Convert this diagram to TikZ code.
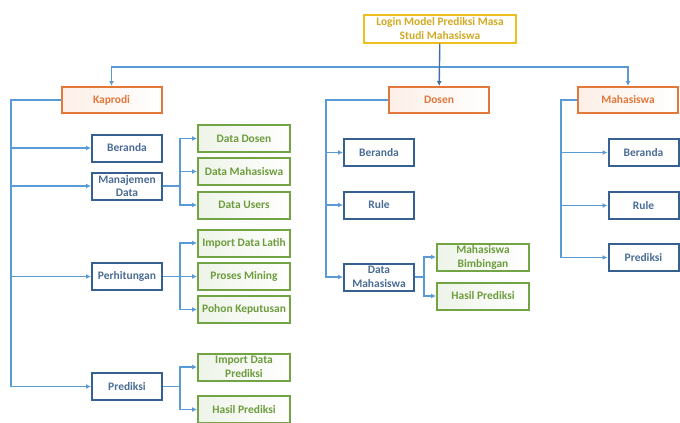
\documentclass[tikz,border=0pt]{standalone}
\usepackage{fontspec}
\setmainfont{Carlito}
\usetikzlibrary{arrows.meta}
\definecolor{linkblue}{HTML}{5B9BD5}
\definecolor{linkdark}{HTML}{3E6FA8}
\definecolor{boxblue}{HTML}{35608F}
\definecolor{textblue}{HTML}{4A6C96}
\definecolor{boxorange}{HTML}{E2773A}
\definecolor{boxgreen}{HTML}{72A344}
\definecolor{textgreen}{HTML}{6C9C3C}
\definecolor{boxyellow}{HTML}{EDBE1E}
\definecolor{textyellow}{HTML}{D2AA22}
\tikzset{
	box/.style={draw, line width=2bp, minimum height=27bp, inner sep=1bp, align=center, font=\fontsize{11.5}{14}\selectfont\bfseries},
	rootbox/.style={box, draw=boxyellow, text=textyellow, fill=white, minimum width=152bp, minimum height=28bp},
	userbox/.style={box, draw=boxorange, text=boxorange, left color=boxorange!12, right color=white, minimum width=100bp, minimum height=26bp},
	menubox/.style={box, draw=boxblue, text=textblue, fill=white, minimum width=70bp},
	subbox/.style={box, draw=boxgreen, text=textgreen, left color=boxgreen!12, right color=white, minimum width=92bp},
	link/.style={draw=linkblue, line width=1.4bp, -{Latex[length=5bp,width=5bp]}},
}

\begin{document}
\begin{tikzpicture}[x=1bp,y=-1bp]
				\useasboundingbox (0,0) rectangle (680,422);
				
				\node[rootbox] (login) at (440,28.5) {Login Model Prediksi Masa\\Studi Mahasiswa};
				\node[userbox] (kaprodi) at (111.5,100) {Kaprodi};
				\node[userbox] (dosen) at (439,100) {Dosen};
				\node[userbox] (mahasiswa) at (628,100) {Mahasiswa};
				
				\node[menubox] (kberanda) at (127,148) {Beranda};
				\node[menubox] (kmanajemen) at (127,186) {Manajemen\\Data};
				\node[menubox] (kperhitungan) at (127,276.5) {Perhitungan};
				\node[menubox] (kprediksi) at (127,386.5) {Prediksi};
				
				\node[subbox] (kdosen) at (244,138.5) {Data Dosen};
				\node[subbox] (kmhs) at (244,171.5) {Data Mahasiswa};
				\node[subbox] (kusers) at (244,205) {Data Users};
				\node[subbox] (klatih) at (244,243) {Import Data Latih};
				\node[subbox] (kmining) at (244,276.5) {Proses Mining};
				\node[subbox] (kpohon) at (244,309.5) {Pohon Keputusan};
				\node[subbox] (kimport) at (244,367) {Import Data\\Prediksi};
				\node[subbox] (khasil) at (244,409.5) {Hasil Prediksi};
				
				\node[menubox] (dberanda) at (379,152.5) {Beranda};
				\node[menubox] (drule) at (379,205) {Rule};
				\node[menubox] (ddata) at (379,277) {Data\\Mahasiswa};
				\node[subbox] (dbimbingan) at (483,257) {Mahasiswa\\Bimbingan};
				\node[subbox] (dhasil) at (483,296) {Hasil Prediksi};
				
				\node[menubox] (mberanda) at (643.5,152.5) {Beranda};
				\node[menubox] (mrule) at (643.5,205.5) {Rule};
				\node[menubox] (mprediksi) at (643.5,257.5) {Prediksi};
				
				\coordinate (bus) at (440,67);
				\draw[link] (bus) -| (kaprodi);
				\draw[link] (bus) -| (mahasiswa);
				\draw[link, draw=linkdark] (login) -- (dosen);
				
				\coordinate (kbus) at (11,100);
				\draw[link] (kaprodi.west) -- (kbus) |- (kprediksi);
				\foreach \n in {kberanda,kmanajemen,kperhitungan}
					\draw[link] (kbus |- \n) -- (\n);
				\foreach \n in {kdosen,kmhs,kusers}
					\draw[link] (kmanajemen.east) -- ++(17,0) |- (\n);
				\foreach \n in {klatih,kmining,kpohon}
					\draw[link] (kperhitungan.east) -- ++(17,0) |- (\n);
				\foreach \n in {kimport,khasil}
					\draw[link] (kprediksi.east) -- ++(17,0) |- (\n);
				
				\coordinate (dbus) at (326,100);
				\draw[link] (dosen.west) -- (dbus) |- (ddata);
				\foreach \n in {dberanda,drule}
					\draw[link] (dbus |- \n) -- (\n);
				\foreach \n in {dbimbingan,dhasil}
					\draw[link] (ddata.east) -- ++(9,0) |- (\n);
				
				\coordinate (mbus) at (561,100);
				\draw[link] (mahasiswa.west) -- (mbus) |- (mprediksi);
				\foreach \n in {mberanda,mrule}
					\draw[link] (mbus |- \n) -- (\n);
			\end{tikzpicture}
\end{document}
